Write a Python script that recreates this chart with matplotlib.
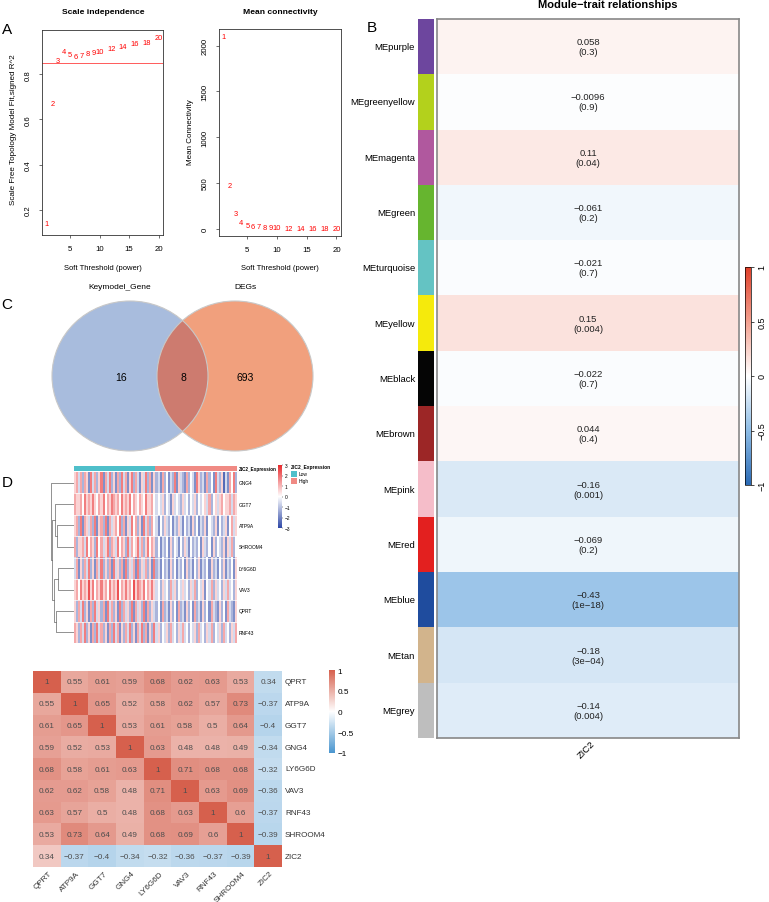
import numpy as np
import matplotlib
matplotlib.use('Agg')
import matplotlib.pyplot as plt
from matplotlib.colors import LinearSegmentedColormap, ListedColormap
from matplotlib.patches import Ellipse, Rectangle
import matplotlib.cm as cm

plt.rcParams['font.family'] = ['Liberation Sans', 'DejaVu Sans']

W, H = 769, 903

# ---- A: soft threshold
powers = [1, 2, 3, 4, 5, 6, 7, 8, 9, 10, 12, 14, 16, 18, 20]
sft_r2 = [0.14, 0.67, 0.86, 0.90, 0.885, 0.88, 0.883, 0.89, 0.895, 0.90, 0.913, 0.92, 0.936, 0.939, 0.962]
mean_k = [2100, 470, 160, 67, 37, 26, 18, 12, 9, 7, 5, 4, 3, 2.5, 2]
r2_cut = 0.85

# ---- B: module-trait
modules = ['MEpurple', 'MEgreenyellow', 'MEmagenta', 'MEgreen', 'MEturquoise', 'MEyellow', 'MEblack',
           'MEbrown', 'MEpink', 'MEred', 'MEblue', 'MEtan', 'MEgrey']
module_colors = ['#6d469e', '#b3d11c', '#b0589e', '#66b52f', '#64c3c3', '#f5ea0c', '#050505',
                 '#9c2626', '#f5bdc9', '#e3201f', '#1f4c9e', '#d2b48c', '#bebebe']
me_cor = [0.058, -0.0096, 0.11, -0.061, -0.021, 0.15, -0.022, 0.044, -0.16, -0.069, -0.43, -0.18, -0.14]
me_p = [0.3, 0.9, 0.04, 0.2, 0.7, 0.004, 0.7, 0.4, 0.001, 0.2, 1e-18, 3e-04, 0.004]
trait = 'ZIC2'

# ---- C: venn
venn_names = ['Keymodel_Gene', 'DEGs']
venn_counts = [16, 8, 693]

# ---- D: expression heatmap (digit d -> z = (d - 4) * 0.6), first half Low, second half High
genes_hm = ['GNG4', 'GGT7', 'ATP9A', 'SHROOM4', 'LY6G6D', 'VAV3', 'QPRT', 'RNF43']
hm_rows = [
    "5636265173 6257163725 1627361572 6315372615 2316241327 1532162431 7523162417 3250316472",
    "6556475657 5465746576 5647565746 5465475564 3435243153 4325342435 2434536245 3564556365",
    "5627165362 7156271635 6472615374 6251736264 3142532413 2531423152 4132514325 1423514635",
    "6255637465 2746357265 3746527364 5736257465 2413241524 3142531423 2415324152 4325153624",
    "3615263725 1637252617 3526172536 1725362517 2314231524 1324152314 2513241523 1425132415",
    "5647565857 4657564756 5846575648 5765746575 3425342635 2435342536 2435143625 3425363425",
    "5263725162 7352617362 5172635271 6352716253 2416231524 1623152416 2315241632 1524163215",
    "6526372516 2736251627 3615263725 1637261527 3524352634 2536342435 2634253624 3526342536",
]
groups = ['Low', 'High']
group_colors = ['#4fbfca', '#f08a84']
# linkage: (a, b, height); ids >= 8 refer to earlier merges
dendro = [(2, 3, 0.73), (4, 5, 0.68), (6, 7, 0.78), (1, 8, 0.82), (9, 10, 0.86), (11, 12, 0.95), (0, 13, 1.0)]

# ---- correlation matrix
cor_genes = ['QPRT', 'ATP9A', 'GGT7', 'GNG4', 'LY6G6D', 'VAV3', 'RNF43', 'SHROOM4', 'ZIC2']
cor = np.array([
    [1, 0.55, 0.61, 0.59, 0.68, 0.62, 0.63, 0.53, 0.34],
    [0.55, 1, 0.65, 0.52, 0.58, 0.62, 0.57, 0.73, -0.37],
    [0.61, 0.65, 1, 0.53, 0.61, 0.58, 0.5, 0.64, -0.4],
    [0.59, 0.52, 0.53, 1, 0.63, 0.48, 0.48, 0.49, -0.34],
    [0.68, 0.58, 0.61, 0.63, 1, 0.71, 0.68, 0.68, -0.32],
    [0.62, 0.62, 0.58, 0.48, 0.71, 1, 0.63, 0.69, -0.36],
    [0.63, 0.57, 0.5, 0.48, 0.68, 0.63, 1, 0.6, -0.37],
    [0.53, 0.73, 0.64, 0.49, 0.68, 0.69, 0.6, 1, -0.39],
    [0.34, -0.37, -0.4, -0.34, -0.32, -0.36, -0.37, -0.39, 1],
])
cor_color_override = {(0, 8): -0.34}


def box(x, y, w, h):
    return [x / W, 1 - (y + h) / H, w / W, h / H]


fig = plt.figure(figsize=(W / 100, H / 100), dpi=100)


def ftext(x, y, s, **kw):
    fig.text(x / W, 1 - y / H, s, **kw)


def rfmt(v, digits):
    # R-like: signif() then fixed unless scientific is shorter
    v = float('{:.{}g}'.format(v, digits))
    fixed = np.format_float_positional(v, trim='-')
    mant, ex = '{:.{}e}'.format(v, digits - 1).split('e')
    if '.' in mant:
        mant = mant.rstrip('0').rstrip('.')
    sci = mant + 'e' + ex
    s = fixed if len(fixed) <= len(sci) else sci
    return s.replace('-', '\u2212')


def r_axes(ax):
    for s in ax.spines.values():
        s.set_linewidth(0.6)
        s.set_color('#333333')
    ax.tick_params(direction='out', length=2.5, width=0.5, labelsize=5.6, pad=5, color='#333333')
    for t in ax.get_yticklabels():
        t.set_rotation(90)
        t.set_va('center')


# ---- panel A
ax1 = fig.add_axes(box(42, 31, 121, 205))
for p, v in zip(powers, sft_r2):
    ax1.text(p, v, str(p), color='red', fontsize=5.4, ha='center', va='center')
ax1.axhline(r2_cut, color='#ff5a5a', lw=0.7)
ax1.set_xlim(0.24, 20.76)
ax1.set_ylim(0.09, 0.995)
ax1.set_xticks([5, 10, 15, 20])
ax1.set_yticks([0.2, 0.4, 0.6, 0.8])
ax1.set_yticklabels(['0.2', '0.4', '0.6', '0.8'])
r_axes(ax1)

ax2 = fig.add_axes(box(219, 30, 122, 207))
for p, v in zip(powers, mean_k):
    ax2.text(p, v, str(p), color='red', fontsize=5.4, ha='center', va='center')
ax2.set_xlim(0.24, 20.76)
ax2.set_ylim(-82, 2184)
ax2.set_xticks([5, 10, 15, 20])
ax2.set_yticks([0, 500, 1000, 1500, 2000])
r_axes(ax2)

ftext(103, 12, 'Scale independence', ha='center', va='center', fontsize=6.1, fontweight='bold')
ftext(280, 12, 'Mean connectivity', ha='center', va='center', fontsize=6.1, fontweight='bold')
ftext(103, 268, 'Soft Threshold (power)', ha='center', va='center', fontsize=5.5)
ftext(280, 268, 'Soft Threshold (power)', ha='center', va='center', fontsize=5.5)
ftext(14, 130, 'Scale Free Topology Model Fit,signed R^2', ha='center', va='center', fontsize=5.8, rotation=90)
ftext(190, 132, 'Mean Connectivity', ha='center', va='center', fontsize=5.8, rotation=90)

# ---- panel B
cmap_b = LinearSegmentedColormap.from_list('bwr_b', [(0, '#2a6ab5'), (0.25, '#8ebde6'), (0.5, 'white'),
                                                     (0.75, '#f3a190'), (1, '#e0402a')])
n_mod = len(modules)
axs = fig.add_axes(box(418, 20, 16, 719))
axs.imshow(np.arange(n_mod).reshape(-1, 1), cmap=ListedColormap(module_colors), aspect='auto',
           extent=(0, 1, n_mod, 0), interpolation='nearest')
axs.axis('off')

axb = fig.add_axes(box(437, 20, 302, 719))
axb.imshow(np.array(me_cor).reshape(-1, 1), cmap=cmap_b, vmin=-1, vmax=1, aspect='auto',
           extent=(0, 1, n_mod, 0), interpolation='nearest')
for i, (r, p) in enumerate(zip(me_cor, me_p)):
    axb.text(0.5, i + 0.5, rfmt(r, 2) + '\n(' + rfmt(p, 1) + ')', ha='center', va='center',
             fontsize=6.8, color='#222222', linespacing=1.15)
axb.set_xticks([])
axb.set_yticks([])
for s in axb.spines.values():
    s.set_color('#888888')
    s.set_linewidth(1.2)
row_h = 719 / n_mod
for i, m in enumerate(modules):
    ftext(415, 20 + row_h * (i + 0.5), m, ha='right', va='center', fontsize=6.8)
fig.text(594 / W, 1 - 743 / H, trait, rotation=45, rotation_mode='anchor', ha='right', va='center', fontsize=6.8)
ftext(608, 5, 'Module\u2212trait relationships', ha='center', va='center', fontsize=8, fontweight='bold')

caxb = fig.add_axes(box(745, 268, 6, 218))
cbb = fig.colorbar(cm.ScalarMappable(cmap=cmap_b, norm=plt.Normalize(-1, 1)), cax=caxb)
cbb.set_ticks([-1, -0.5, 0, 0.5, 1])
cbb.set_ticklabels(['\u22121', '\u22120.5', '0', '0.5', '1'])
cbb.outline.set_linewidth(0.5)
caxb.tick_params(labelsize=6.5, length=2.5, width=0.5, pad=2)
for t in caxb.get_yticklabels():
    t.set_rotation(90)
    t.set_va('center')

# ---- panel C
axv = fig.add_axes(box(0, 280, 360, 180))
axv.set_xlim(0, 360)
axv.set_ylim(460, 280)
axv.axis('off')
e1 = Ellipse((130, 377), 156, 150, fc='#a8bcdd', ec='none')
e2 = Ellipse((235, 377), 156, 150, fc='#f1a07d', ec='none')
lens = Ellipse((235, 377), 156, 150, fc='#cd7b6f', ec='none')
axv.add_patch(e1)
axv.add_patch(e2)
axv.add_patch(lens)
lens.set_clip_path(e1)
axv.add_patch(Ellipse((130, 377), 156, 150, fc='none', ec='#c8c8c8', lw=0.8))
axv.add_patch(Ellipse((235, 377), 156, 150, fc='none', ec='#c8c8c8', lw=0.8))
axv.text(120, 288, venn_names[0], ha='center', va='center', fontsize=6)
axv.text(245, 288, venn_names[1], ha='center', va='center', fontsize=6)
for xx, n in zip([121, 183, 245], venn_counts):
    axv.text(xx, 378, str(n), ha='center', va='center', fontsize=7.5)

# ---- panel D heatmap
hm = np.array([[int(c) for c in s.replace(' ', '')] for s in hm_rows])
hm_z = (hm - 4) * 0.6
n_g, n_s = hm_z.shape
cmap_d = LinearSegmentedColormap.from_list('hm_d', ['#2d47a6', 'white', '#e8282b'])
axh = fig.add_axes(box(74, 473, 163, 171))
axh.imshow(hm_z, cmap=cmap_d, vmin=-3, vmax=3, aspect='auto', extent=(0, n_s, n_g, 0),
           interpolation='nearest')
for k in range(1, n_g):
    axh.axhline(k, color='white', lw=0.5)
axh.axis('off')
for i, g in enumerate(genes_hm):
    ftext(239, 473 + 171 / n_g * (i + 0.5), g, ha='left', va='center', fontsize=3.5)

grp = np.repeat(np.arange(len(groups)), n_s // len(groups)).reshape(1, -1)
axa = fig.add_axes(box(74, 467, 163, 5))
axa.imshow(grp, cmap=ListedColormap(group_colors), aspect='auto', interpolation='nearest')
axa.axis('off')
ftext(239, 469.5, 'ZIC2_Expression', ha='left', va='center', fontsize=3.3, fontweight='bold')

# dendrogram
axd = fig.add_axes(box(51, 473, 23, 171))
pos = {i: i + 0.5 for i in range(n_g)}
hgt = {i: 0.0 for i in range(n_g)}
for k, (a, b, h) in enumerate(dendro):
    ya, yb = pos[a], pos[b]
    axd.plot([hgt[a], h, h, hgt[b]], [ya, ya, yb, yb], color='#666666', lw=0.5)
    pos[n_g + k] = (ya + yb) / 2
    hgt[n_g + k] = h
axd.set_xlim(1.0, 0)
axd.set_ylim(n_g, 0)
axd.axis('off')

caxd = fig.add_axes(box(278, 466, 4, 63))
cbd = fig.colorbar(cm.ScalarMappable(cmap=cmap_d, norm=plt.Normalize(-3, 3)), cax=caxd)
cbd.set_ticks([-3, -2, -1, 0, 1, 2, 3])
cbd.set_ticklabels(['\u22123', '\u22122', '\u22121', '0', '1', '2', '3'])
cbd.outline.set_visible(False)
caxd.tick_params(labelsize=3.5, length=1, width=0.3, pad=1)

ftext(291, 468, 'ZIC2_Expression', ha='left', va='center', fontsize=3.5, fontweight='bold')
for k, (g, c) in enumerate(zip(groups, group_colors)):
    fig.add_artist(Rectangle((291 / W, 1 - (478 + 7 * k) / H), 6 / W, 6 / H, transform=fig.transFigure,
                             fc=c, ec='none'))
    ftext(299, 475 + 7 * k, g, ha='left', va='center', fontsize=3.5)

# ---- correlation heatmap
cmap_c = LinearSegmentedColormap.from_list('cor', ['#4a96cf', 'white', '#d6604d'])
cor_col = cor.copy()
for (i, j), v in cor_color_override.items():
    cor_col[i, j] = v
n_c = len(cor_genes)
axc = fig.add_axes(box(33, 672, 249, 196))
axc.imshow(cor_col, cmap=cmap_c, vmin=-1, vmax=1, aspect='auto', extent=(0, n_c, n_c, 0),
           interpolation='nearest')
for i in range(n_c):
    for j in range(n_c):
        axc.text(j + 0.5, i + 0.5, '{:g}'.format(cor[i, j]).replace('-', '\u2212'),
                 ha='center', va='center', fontsize=5.9, color='#4d4d4d')
axc.axis('off')
cw = 249 / n_c
ch = 196 / n_c
for i, g in enumerate(cor_genes):
    ftext(285, 672 + ch * (i + 0.5), g, ha='left', va='center', fontsize=5.9, color='#333333')
    fig.text((33 + cw * (i + 0.5) + 4) / W, 1 - 873 / H, g, rotation=45, rotation_mode='anchor',
             ha='right', va='center', fontsize=5.9, color='#333333')

caxc = fig.add_axes(box(329, 671, 6, 83))
cbc = fig.colorbar(cm.ScalarMappable(cmap=cmap_c, norm=plt.Normalize(-1, 1)), cax=caxc)
cbc.set_ticks([-1, -0.5, 0, 0.5, 1])
cbc.set_ticklabels(['\u22121', '\u22120.5', '0', '0.5', '1'])
cbc.outline.set_visible(False)
caxc.tick_params(labelsize=5.9, length=0, pad=2)

# panel letters
for lab, x, y in [('A', 7, 30), ('B', 372, 28), ('C', 7, 305), ('D', 7, 483)]:
    ftext(x, y, lab, ha='center', va='center', fontsize=11)

fig.savefig('out.png', dpi=100)
